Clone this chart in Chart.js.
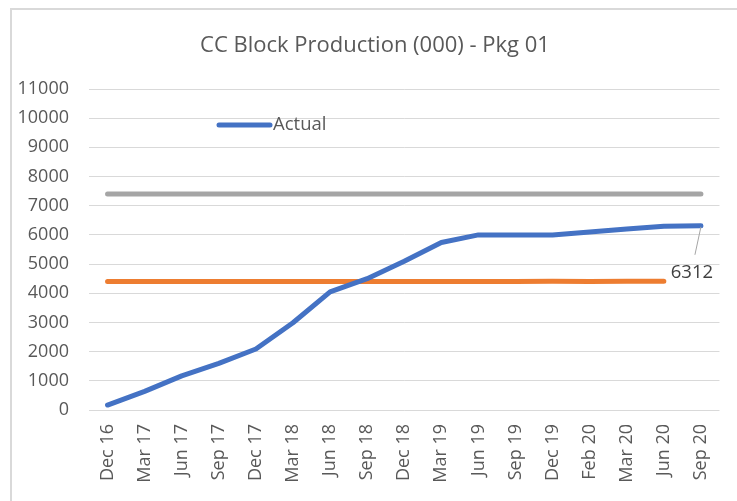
<!DOCTYPE html>
<html>
<head>
<meta charset="utf-8">
<script src="https://cdn.jsdelivr.net/npm/chart.js@4.4.1/dist/chart.umd.min.js"></script>
<style>
html,body{margin:0;padding:0;background:#fff;}
#wrap{position:relative;width:737px;height:501px;overflow:hidden;}
#frame{position:absolute;left:10px;top:8px;width:800px;height:600px;border-left:2px solid #D9D9D9;border-top:2px solid #D9D9D9;}
canvas{position:absolute;left:0;top:0;}
</style>
</head>
<body>
<div id="wrap"><div id="frame"></div><canvas id="c" width="737" height="501"></canvas></div>
<script>
const categories = ["Dec 16","Mar 17","Jun 17","Sep 17","Dec 17","Mar 18","Jun 18","Sep 18","Dec 18","Mar 19","Jun 19","Sep 19","Dec 19","Feb 20","Mar 20","Jun 20","Sep 20"];
const actual = [170,640,1170,1600,2090,2990,4050,4500,5100,5740,6000,6000,6000,6100,6200,6300,6312];
const orangeSeries = [4400,4400,4400,4400,4400,4400,4400,4400,4400,4400,4400,4400,4410,4400,4410,4410,null];
const graySeries = [7400,7400,7400,7400,7400,7400,7400,7400,7400,7400,7400,7400,7400,7400,7400,7400,7400];
const yTicks = [0,1000,2000,3000,4000,5000,6000,7000,8000,9000,10000,11000];
const titleText = "CC Block Production (000) - Pkg 01";
const labelText = "6312";

const FONT = "'Open Sans', sans-serif";
const TXT = "#595959";
const FS = 18;

const overlay = {
  id: 'overlay',
  afterDraw(chart) {
    const ctx = chart.ctx;
    ctx.save();
    ctx.fillStyle = TXT;
    ctx.font = "22px " + FONT;
    ctx.textAlign = 'center';
    ctx.textBaseline = 'middle';
    ctx.fillText(titleText, 375, 46);
    ctx.strokeStyle = '#4472C4';
    ctx.lineWidth = 5;
    ctx.lineCap = 'round';
    ctx.beginPath();
    ctx.moveTo(219, 125); ctx.lineTo(270, 125); ctx.stroke();
    ctx.font = "18.5px " + FONT;
    ctx.textAlign = 'left';
    ctx.fillText(chart.data.datasets[0].label, 273, 125);
    const meta = chart.getDatasetMeta(0);
    const pt = meta.data[meta.data.length - 1];
    ctx.strokeStyle = '#A5A5A5';
    ctx.lineWidth = 1;
    ctx.lineCap = 'butt';
    ctx.beginPath();
    ctx.moveTo(pt.x, pt.y + 1); ctx.lineTo(pt.x - 6, pt.y + 29); ctx.stroke();
    ctx.fillStyle = '#404040';
    ctx.textAlign = 'center';
    ctx.fillText(labelText, pt.x - 9, pt.y + 47);
    ctx.restore();
  }
};

new Chart(document.getElementById('c'), {
  type: 'line',
  data: {
    labels: categories,
    datasets: [
      {label:'Actual', data: actual, borderColor:'#4472C4', borderWidth:5, pointRadius:0, tension:0, borderCapStyle:'round', borderJoinStyle:'round', order:0},
      {label:'Plan', data: orangeSeries, borderColor:'#ED7D31', borderWidth:5, pointRadius:0, tension:0, borderCapStyle:'round', borderJoinStyle:'round', order:1},
      {label:'Target', data: graySeries, borderColor:'#A5A5A5', borderWidth:5, pointRadius:0, tension:0, borderCapStyle:'round', borderJoinStyle:'round', order:2}
    ]
  },
  options: {
    responsive: false,
    animation: false,
    devicePixelRatio: 1,
    layout: {padding: {top: 89, right: 16, left: 0, bottom: 0}},
    plugins: {legend: {display:false}, title:{display:false}, tooltip:{enabled:false}},
    scales: {
      x: {
        offset: true,
        grid: {display:false, drawTicks:false},
        border: {display:false},
        ticks: {color: TXT, font:{family:FONT, size:FS}, minRotation:90, maxRotation:90, padding:14, autoSkip:false},
        afterFit(s){ s.height = 91; }
      },
      y: {
        min: 0, max: 11000,
        afterBuildTicks(s){ s.ticks = yTicks.map(v=>({value:v})); },
        grid: {color:'#D9D9D9', lineWidth:1, drawTicks:false},
        border: {display:false},
        ticks: {color: TXT, font:{family:FONT, size:FS}, padding:20, callback: v => String(v)},
        afterFit(s){ s.width = 89; }
      }
    }
  },
  plugins: [overlay]
});
</script>
</body>
</html>
